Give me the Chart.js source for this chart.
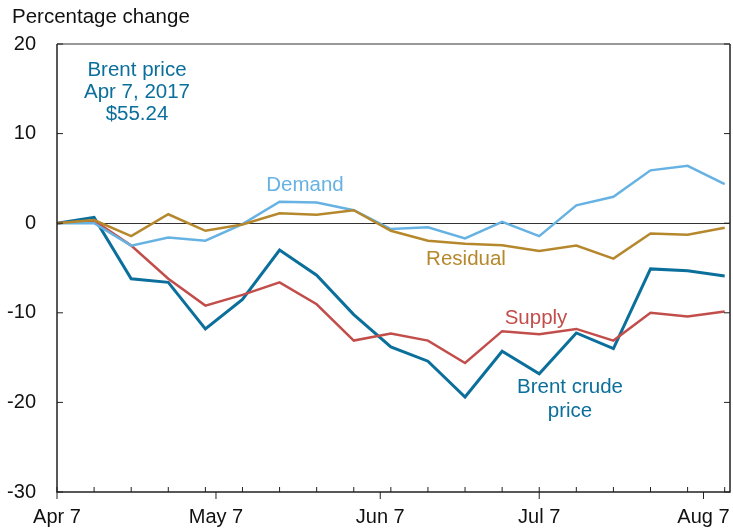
<!DOCTYPE html>
<html>
<head>
<meta charset="utf-8">
<script src="https://cdn.jsdelivr.net/npm/chart.js@4.4.1/dist/chart.umd.min.js"></script>
<style>
  html,body{margin:0;padding:0;background:#fff;}
  #wrap{width:733px;height:530px;}
</style>
</head>
<body>
<div id="wrap"><canvas id="c" width="733" height="530"></canvas></div>
<script>
// semaines depuis le 7 avril 2017 (jours)
const days     = [0,7,14,21,28,35,42,49,56,63,70,77,84,91,98,105,112,119,126];
const brent    = [0,0.65,-6.2,-6.6,-11.8,-8.5,-3.0,-5.8,-10.2,-13.8,-15.4,-19.4,-14.3,-16.8,-12.25,-14.0,-5.1,-5.3,-5.9];
const supply   = [0,0.3,-2.5,-6.2,-9.2,-8.0,-6.6,-9.05,-13.1,-12.3,-13.1,-15.6,-12.05,-12.4,-11.8,-13.1,-10.0,-10.4,-9.85];
const demand   = [0,0,-2.5,-1.6,-1.95,-0.1,2.4,2.3,1.45,-0.65,-0.45,-1.7,0.15,-1.45,2.0,2.95,5.9,6.4,4.35];
const residual = [0,0.35,-1.45,1.0,-0.85,-0.15,1.1,0.95,1.45,-0.85,-1.95,-2.3,-2.45,-3.1,-2.5,-3.95,-1.15,-1.3,-0.5];

const monthTicks  = [0,30,61,91,122];
const monthLabels = ["Apr 7","May 7","Jun 7","Jul 7","Aug 7"];
const yTicks = [20,10,0,-10,-20,-30];

const C_BRENT="#0b6f9c", C_SUP="#c24e4b", C_DEM="#66b2e3", C_RES="#b6882d";
const FONT = "Liberation Sans, Arial, Helvetica, sans-serif";

function pts(arr){ return arr.map((v,i)=>({x:days[i],y:v})); }

// textes + graduations intérieures
const extras = {
  id:"extras",
  afterDraw(chart){
    const {ctx, chartArea:a, scales:{x,y}} = chart;
    ctx.save();
    // cadre
    ctx.lineWidth=1.5;
    ctx.strokeStyle="#777";
    ctx.beginPath(); ctx.moveTo(a.left,a.top); ctx.lineTo(a.right,a.top); ctx.stroke();
    ctx.strokeStyle="#222";
    ctx.beginPath();
    ctx.moveTo(a.left,a.top); ctx.lineTo(a.left,a.bottom); ctx.lineTo(a.right,a.bottom); ctx.lineTo(a.right,a.top);
    ctx.stroke();
    ctx.lineWidth=1;
    // graduations y (intérieur, gauche et droite)
    yTicks.forEach(v=>{
      const py=y.getPixelForValue(v);
      ctx.beginPath();
      ctx.moveTo(a.left,py); ctx.lineTo(a.left+6,py);
      ctx.moveTo(a.right,py); ctx.lineTo(a.right-6,py);
      ctx.stroke();
    });
    // graduations hebdo (intérieur)
    days.forEach(d=>{
      const px=x.getPixelForValue(d);
      ctx.beginPath(); ctx.moveTo(px,a.bottom); ctx.lineTo(px,a.bottom-5); ctx.stroke();
    });
    // graduations mois (extérieur)
    monthTicks.forEach(d=>{
      const px=x.getPixelForValue(d);
      ctx.beginPath(); ctx.moveTo(px,a.bottom); ctx.lineTo(px,a.bottom+7); ctx.stroke();
    });
    ctx.font="20.5px "+FONT;
    ctx.textBaseline="middle";
    ctx.fillStyle="#111"; ctx.textAlign="left";
    ctx.fillText("Percentage change",12,17);
    ctx.textAlign="center";
    ctx.fillStyle=C_BRENT;
    ctx.fillText("Brent price",137,70);
    ctx.fillText("Apr 7, 2017",137,92);
    ctx.fillText("$55.24",137,114);
    ctx.fillText("Brent crude",570,387);
    ctx.fillText("price",570,411);
    ctx.fillStyle=C_DEM; ctx.fillText("Demand",305,185);
    ctx.fillStyle=C_RES; ctx.fillText("Residual",466,259);
    ctx.fillStyle=C_SUP; ctx.fillText("Supply",536,318);
    ctx.restore();
  }
};

function ds(label,data,color,w){
  return {label, data:pts(data), borderColor:color, backgroundColor:color, borderWidth:w, pointRadius:0, tension:0, fill:false};
}

new Chart(document.getElementById("c"),{
  type:"line",
  data:{ datasets:[
    ds("Residual",residual,C_RES,2.5),
    ds("Demand",demand,C_DEM,2.5),
    ds("Supply",supply,C_SUP,2.5),
    ds("Brent crude price",brent,C_BRENT,3)
  ]},
  options:{
    responsive:false, animation:false,
    layout:{padding:{top:44,right:3,left:0,bottom:0}},
    plugins:{legend:{display:false},tooltip:{enabled:false}},
    scales:{
      x:{
        type:"linear", min:0, max:127,
        afterFit(s){ s.height=38; s.paddingLeft=0; s.paddingRight=0; },
        afterBuildTicks(s){ s.ticks = monthTicks.map(v=>({value:v})); },
        grid:{display:false, drawTicks:false},
        border:{display:false},
        ticks:{ color:"#111", font:{family:FONT,size:20}, padding:13, maxRotation:0, autoSkip:false,
          callback:(v)=>{ const i=monthTicks.indexOf(v); return i>=0?monthLabels[i]:""; } }
      },
      y:{
        min:-30, max:20,
        afterFit(s){ s.width=57; },
        afterBuildTicks(s){ s.ticks = yTicks.map(v=>({value:v})); },
        grid:{ drawTicks:false, color:(c)=>c.tick && c.tick.value===0 ? "#333" : "rgba(0,0,0,0)", lineWidth:1 },
        border:{display:false},
        ticks:{ color:"#111", font:{family:FONT,size:20}, padding:21 }
      }
    }
  },
  plugins:[extras]
});
</script>
</body>
</html>
